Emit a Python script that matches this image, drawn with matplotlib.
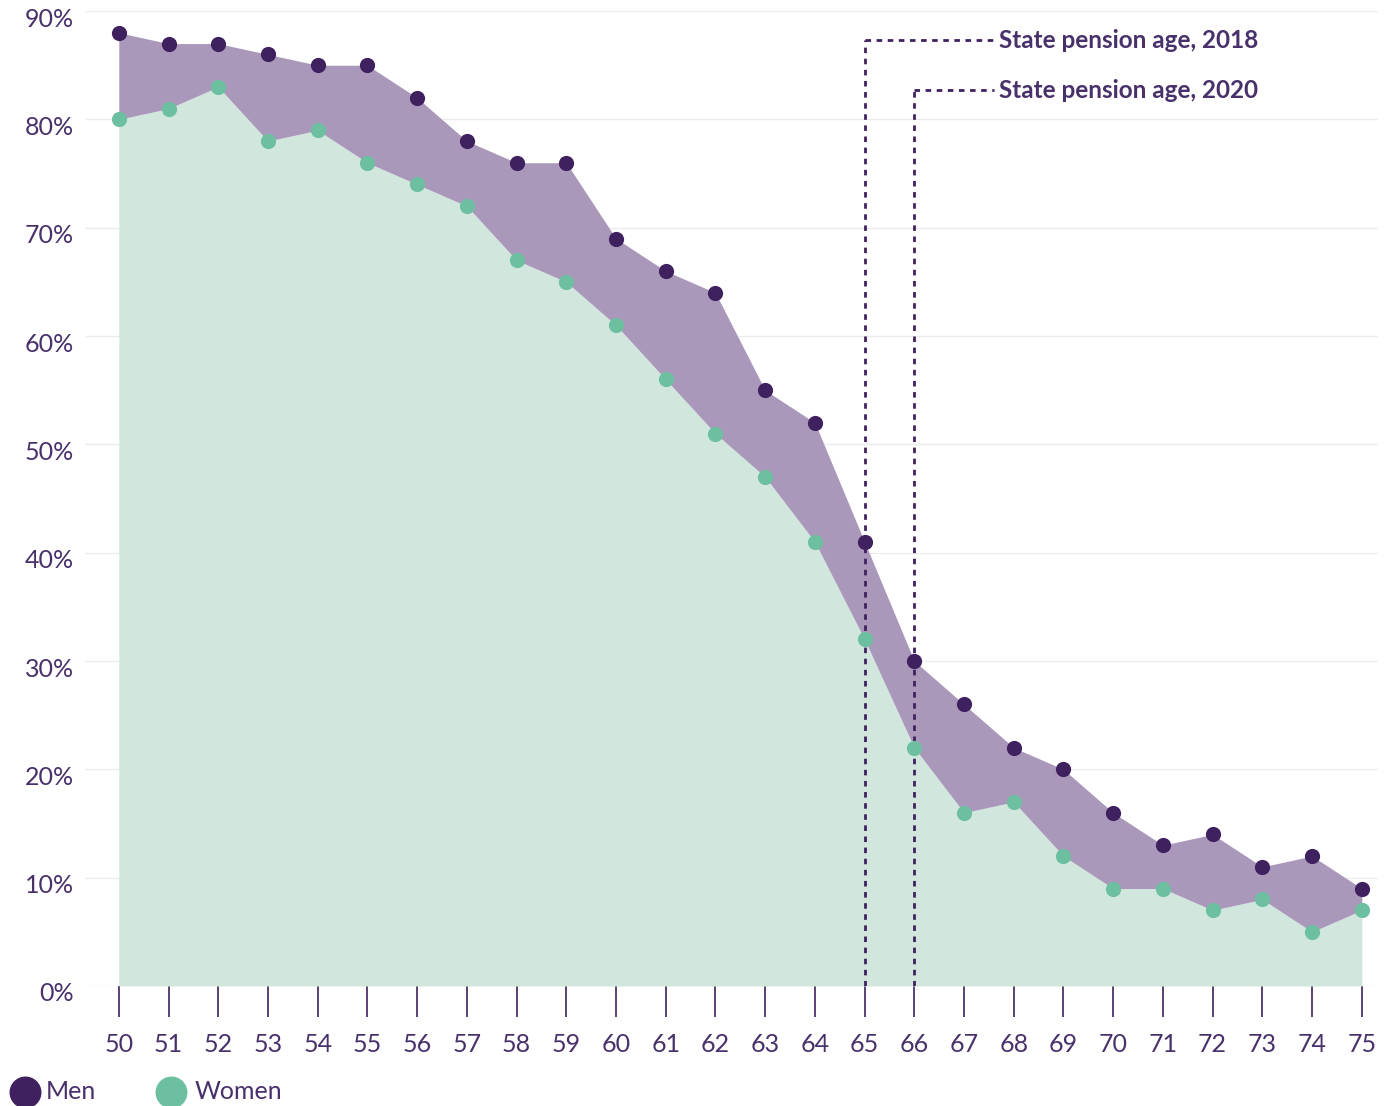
import matplotlib.pyplot as plt
import matplotlib.transforms as mtransforms
from matplotlib.lines import Line2D

plt.rcParams['font.family'] = ['Lato', 'DejaVu Sans']

ages = list(range(50, 76))
men = [88, 87, 87, 86, 85, 85, 82, 78, 76, 76, 69, 66, 64, 55, 52, 41, 30, 26, 22, 20, 16, 13, 14, 11, 12, 9]
women = [80, 81, 83, 78, 79, 76, 74, 72, 67, 65, 61, 56, 51, 47, 41, 32, 22, 16, 17, 12, 9, 9, 7, 8, 5, 7]
pension_ages = [65, 66]
pension_tops = [87.3, 82.7]
pension_labels = ["State pension age, 2018", "State pension age, 2020"]

dark = "#40215f"
text_col = "#48316b"
men_fill = "#aa98bb"
green = "#6cc0a0"
green_fill = "#d1e7de"

fig = plt.figure(figsize=(13.93, 11.06), dpi=100)
ax = fig.add_axes([0.061, 0.1085, 0.928, 0.8815])

ax.fill_between(ages, 0, women, color=green_fill, lw=0, zorder=1)
ax.fill_between(ages, women, men, color=men_fill, lw=0, zorder=1)
ax.scatter(ages, men, s=120, color=dark, zorder=4, lw=0)
ax.scatter(ages, women, s=120, color=green, zorder=4, lw=0)

for a, top, lab in zip(pension_ages, pension_tops, pension_labels):
    ax.plot([a, a], [0, top], ls=(0, (2, 2)), color=dark, lw=2, zorder=3)
    ax.plot([a, 67.6], [top, top], ls=(0, (2, 2)), color=dark, lw=2, zorder=3)
    ax.text(67.7, top, lab, color=text_col, fontsize=17.5, fontweight='bold',
            va='center', ha='left')

ax.set_xlim(49.32, 75.32)
ax.set_ylim(0, 90)
ax.set_yticks(range(0, 91, 10))
ax.set_yticklabels([f"{v}%" for v in range(0, 91, 10)])
ax.set_xticks(ages)
ax.set_xticklabels([str(a) for a in ages])
ax.grid(axis='y', color='#ececec', lw=1, zorder=0)
ax.set_axisbelow(True)
for s in ax.spines.values():
    s.set_visible(False)
ax.tick_params(axis='y', length=0, pad=8, labelsize=18, labelcolor=text_col)
ax.tick_params(axis='x', length=22, width=1.2, color=dark, pad=12,
               labelsize=18, labelcolor=text_col, direction='out')
shift = mtransforms.ScaledTranslation(0, -6 / 100, fig.dpi_scale_trans)
for t in ax.get_yticklabels():
    t.set_transform(t.get_transform() + shift)

# legend drawn by hand in figure coordinates
leg_items = [("Men", dark, 0.0179, 0.033), ("Women", green, 0.1228, 0.1400)]
for lab, col, mx, tx in leg_items:
    fig.add_artist(Line2D([mx], [0.0127], marker='o', ls='', color=col,
                          markersize=22, transform=fig.transFigure))
    fig.text(tx, 0.0127, lab, color=text_col, fontsize=18, va='center', ha='left')

fig.savefig("out.png", dpi=100)
